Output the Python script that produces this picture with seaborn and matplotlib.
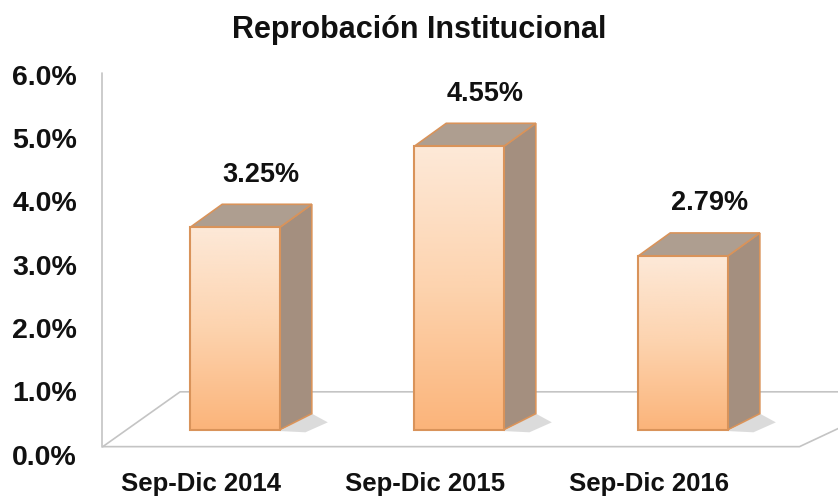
import numpy as np
import matplotlib.pyplot as plt
import matplotlib.transforms as mtransforms
import seaborn as sns
from matplotlib.patches import Polygon
from matplotlib.colors import LinearSegmentedColormap

periods = ['Sep-Dic 2014', 'Sep-Dic 2015', 'Sep-Dic 2016']
rates = [3.25, 4.55, 2.79]
rate_labels = ['3.25%', '4.55%', '2.79%']
axis_ticks = [0, 1, 2, 3, 4, 5, 6]

sns.set_theme(style='white')
plt.rcParams['font.family'] = ['Liberation Sans', 'DejaVu Sans']

fig = plt.figure(figsize=(8.38, 4.99), dpi=100)
ax = fig.add_axes([0.12, 0.0762, 0.8795, 0.8365])

sns.barplot(x=periods, y=rates, width=0.4, color='#fcc89a', ax=ax)

# depth of the fake 3d boxes
dx, dy_top, dy_bot = 0.143, 0.37, 0.26
edge = '#d9935a'
grad_cmap = LinearSegmentedColormap.from_list('peach', ['#fbb47a', '#fdd3ae', '#fde9d8'])
grad = np.linspace(0, 1, 256).reshape(-1, 1)

for p, lab in zip(list(ax.patches), rate_labels):
    x0 = p.get_x()
    w = p.get_width()
    h = p.get_height()
    x1 = x0 + w
    p.set_facecolor('none')
    p.set_edgecolor(edge)
    p.set_linewidth(1.5)
    p.set_zorder(4)
    im = ax.imshow(grad, extent=[x0, x1, 0, h], origin='lower', aspect='auto',
                   cmap=grad_cmap, zorder=3)
    im.set_clip_path(p)
    side = Polygon([(x1, 0), (x1 + dx, dy_bot), (x1 + dx, h + dy_top), (x1, h)],
                   closed=True, facecolor='#a48f7f', edgecolor=edge, lw=1.2, zorder=2)
    top = Polygon([(x0, h), (x0 + dx, h + dy_top), (x1 + dx, h + dy_top), (x1, h)],
                  closed=True, facecolor='#ae9e90', edgecolor=edge, lw=1.2, zorder=2)
    shadow = Polygon([(x1, -0.02), (x1 + dx, dy_bot), (x1 + dx * 1.5, 0.12), (x1 + dx * 0.8, -0.04)],
                     closed=True, facecolor='#8a8a8a', edgecolor='none', alpha=0.3, zorder=1)
    ax.add_patch(shadow)
    ax.add_patch(side)
    ax.add_patch(top)
    ax.annotate(lab, (x0 + w / 2, h), xytext=(19, 38), textcoords='offset points',
                ha='center', va='center', fontsize=19.5, fontweight='bold', color='#111111')

# floor and back wall
floor_col = '#c4c4c4'
ax.plot([-0.59, -0.245, 2.9], [-0.27, 0.61, 0.61], color=floor_col, lw=1.2, zorder=0)
ax.plot([-0.59, 2.52, 2.9], [-0.27, -0.27, 0.37], color=floor_col, lw=1.2, zorder=0)
ax.plot([-0.595, -0.595], [-0.27, 5.73], color=floor_col, lw=1.2, zorder=0)

ax.set_xlim(-0.6, 2.69)
ax.set_ylim(-0.5, 6.2)
ax.set_yticks([])
ax.set_xlabel('')
ax.set_ylabel('')
ax.tick_params(axis='x', length=0, pad=8, labelsize=18.5)
shift = mtransforms.ScaledTranslation(-0.34, 0, fig.dpi_scale_trans)
for t in ax.get_xticklabels():
    t.set_fontweight('bold')
    t.set_color('#111111')
    t.set_transform(t.get_transform() + shift)
sns.despine(ax=ax, left=True, bottom=True)

# value axis drawn along the back wall
ax2 = ax.twinx()
ax2.set_ylim(-0.0984, 6.4918)
ax2.yaxis.tick_left()
ax2.set_yticks(axis_ticks)
ax2.set_yticklabels([f'{v:.1f}%' for v in axis_ticks], fontsize=20.5, fontweight='bold', color='#111111')
ax2.tick_params(axis='y', length=0, pad=17)
ax2.grid(False)
for s in ax2.spines.values():
    s.set_visible(False)

fig.text(0.5, 1 - 30 / 499, 'Reprobación Institucional', ha='center', va='center',
         fontsize=22, fontweight='bold', color='#111111')

fig.savefig('out.png', dpi=100)
plt.close(fig)
